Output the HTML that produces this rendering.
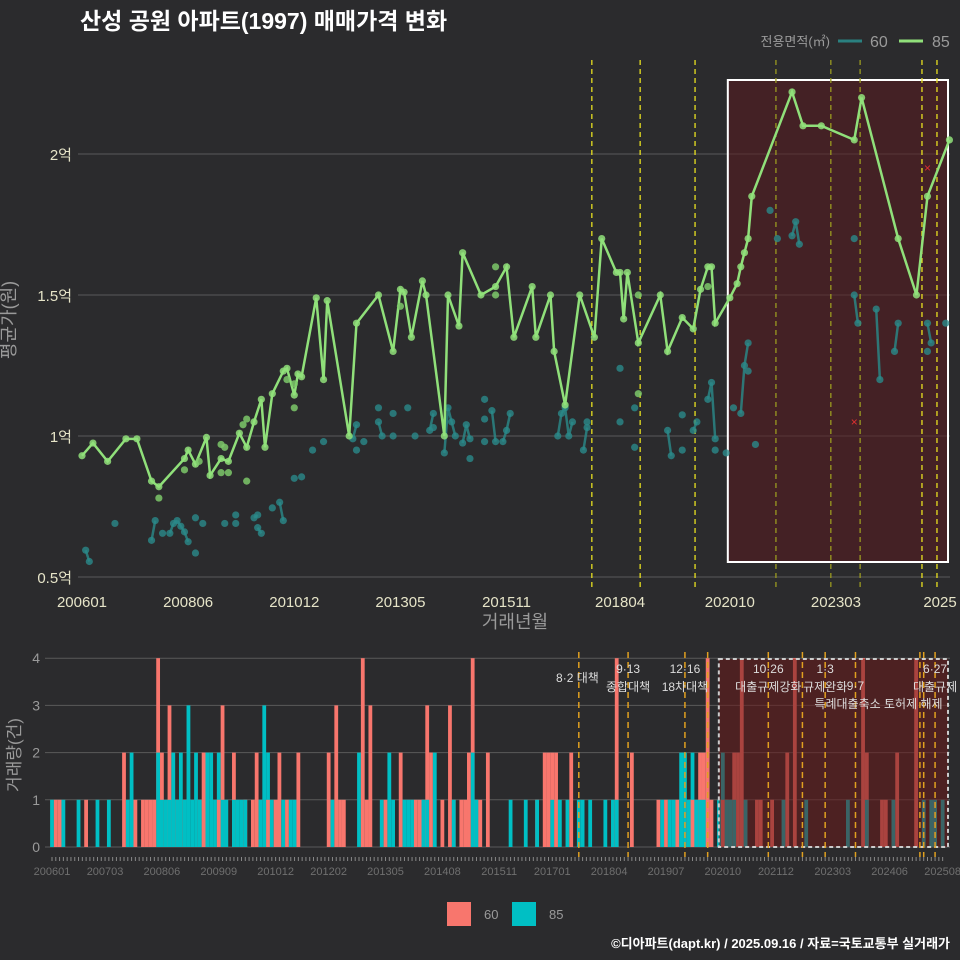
<!DOCTYPE html>
<html><head><meta charset="utf-8">
<style>
body{margin:0;background:#2b2b2d;}
svg{display:block;font-family:"Liberation Sans","Noto Sans CJK KR",sans-serif;}
</style></head>
<body>
<svg id="c" width="960" height="960" viewBox="0 0 960 960" xmlns="http://www.w3.org/2000/svg">
<rect width="960" height="960" fill="#2b2b2d"/>
<text x="80" y="29" fill="#ffffff" font-size="23" font-weight="bold">산성 공원 아파트(1997) 매매가격 변화</text>
<text x="830" y="46" fill="#9a9a9a" font-size="13" text-anchor="end">전용면적(㎡)</text>
<line x1="838" y1="41" x2="862" y2="41" stroke="#2a8080" stroke-width="3"/>
<text x="870" y="47" fill="#9a9a9a" font-size="16">60</text>
<line x1="899" y1="41" x2="923" y2="41" stroke="#90e07a" stroke-width="3"/>
<text x="932" y="47" fill="#9a9a9a" font-size="16">85</text>
<g id="topg"></g>
<g id="botg"></g>
<text x="15" y="320" fill="#9a9a9a" font-size="18" text-anchor="middle" transform="rotate(-90 15 320)">평균가(원)</text>
<text x="515" y="628" fill="#9a9a9a" font-size="18" text-anchor="middle">거래년월</text>
<text x="20" y="755" fill="#9a9a9a" font-size="17" text-anchor="middle" transform="rotate(-90 20 755)">거래량(건)</text>
<rect x="447" y="902" width="24" height="24" fill="#f8766d"/>
<text x="484" y="919" fill="#9a9a9a" font-size="13">60</text>
<rect x="512" y="902" width="24" height="24" fill="#00bfc4"/>
<text x="549" y="919" fill="#9a9a9a" font-size="13">85</text>
<text x="950" y="948" fill="#ffffff" font-size="13" font-weight="bold" text-anchor="end">©디아파트(dapt.kr) / 2025.09.16 / 자료=국토교통부 실거래가</text>
</svg>
<script>
// ---- data ----
const yTicks=[0.5,1,1.5,2];
const yTickLabels=["0.5억","1억","1.5억","2억"];
const xTickMonths=[0,29,58,87,116,147,177,206,235];
const xTickLabels=["200601","200806","201012","201305","201511","201804","202010","202303","2025"];
const m85=[0,3,7,12,15,19,21,28,29,31,34,35,38,40,43,45,47,49,50,52,55,56,58,59,60,64,66,67,73,75,81,85,87,88,90,93,94,99,100,103,104,109,113,116,118,123,124,128,129,132,136,140,142,146,147,148,149,152,158,160,164,167,169,171,172,173,177,179,180,181,182,183,194,197,202,211,213,223,228,231,237];
const v85=[0.93,0.975,0.91,0.99,0.99,0.84,0.82,0.92,0.95,0.90,0.995,0.86,0.92,0.91,1.01,0.96,1.05,1.13,0.96,1.15,1.23,1.24,1.145,1.22,1.21,1.49,1.2,1.48,1.0,1.40,1.5,1.30,1.52,1.51,1.35,1.55,1.50,1.0,1.5,1.39,1.65,1.5,1.53,1.6,1.35,1.53,1.35,1.5,1.30,1.11,1.50,1.35,1.70,1.58,1.58,1.415,1.58,1.33,1.5,1.30,1.42,1.38,1.52,1.6,1.6,1.40,1.49,1.54,1.6,1.65,1.70,1.85,2.22,2.1,2.1,2.05,2.2,1.70,1.5,1.85,2.05];
const m85x=[21,28,32,38,39,38,40,44,45,45,56,58,58,87,113,113,152,152,171];
const v85x=[0.78,0.88,0.91,0.97,0.96,0.87,0.87,1.04,1.06,0.84,1.2,1.185,1.1,1.46,1.6,1.5,1.5,1.15,1.53];
const m60=[1,2,9,19,20,22,24,25,26,27,28,29,31,31,33,39,42,42,47,48,48,49,52,54,55,58,60,63,66,74,75,75,77,81,81,82,85,85,89,91,95,96,96,99,100,101,102,104,105,106,106,110,110,110,112,113,115,116,117,130,131,132,133,134,137,138,138,147,147,151,151,160,161,164,164,167,168,171,172,173,173,176,178,180,181,182,182,184,188,190,194,195,196,211,211,212,217,218,222,223,231,231,232,236];
const v60=[0.595,0.555,0.69,0.63,0.70,0.655,0.655,0.69,0.70,0.68,0.66,0.625,0.71,0.585,0.69,0.69,0.72,0.69,0.71,0.72,0.675,0.655,0.745,0.765,0.70,0.85,0.855,0.95,0.98,0.99,1.04,0.95,0.98,1.1,1.05,1.0,1.08,1.0,1.1,1.0,1.02,1.08,1.03,0.94,1.1,1.05,1.0,0.975,1.04,0.99,0.92,1.13,1.06,0.98,1.09,0.98,0.98,1.02,1.08,1.0,1.08,1.1,1.0,1.05,0.95,1.03,1.05,1.24,1.05,1.1,0.96,1.02,0.93,1.075,0.95,1.02,1.05,1.13,1.19,0.99,0.95,0.94,1.1,1.08,1.25,1.33,1.23,0.97,1.8,1.7,1.71,1.76,1.68,1.7,1.5,1.4,1.45,1.2,1.3,1.4,1.3,1.4,1.33,1.4];
const crossM=[231,211];
const crossV=[1.95,1.05];
const topEvents=[139.3,152.5,167.5,189.6,204.6,212.6,229.5,233.6];
const botEvents=[139,152,167,173,189,198,204,212,229,230,233];
const c85=[1,0,0,1,0,0,0,1,0,0,0,0, 1,0,0,1,0,0,0,0,1,2,0,0, 0,0,0,0,2,1,1,1,2,1,2,1, 3,1,2,1,0,2,2,1,2,1,1,0, 1,1,1,1,0,0,0,1,3,2,1,0, 0,1,0,1,1,0,0,0,0,0,0,0, 0,0,1,0,0,0,0,0,0,2,0,0, 0,0,0,1,0,2,1,0,0,1,1,1, 0,0,1,1,0,2,0,0,0,0,1,0, 0,0,0,2,1,0,0,0,0,0,0,0, 0,1,0,0,0,1,0,0,1,0,0,0, 1,0,1,0,1,0,0,1,1,0,1,0, 0,0,1,0,1,1,0,0,0,0,0,0, 0,0,0,0,0,1,0,1,1,0,2,2, 1,2,1,1,1,0,0,0,1,2,1,1, 1,0,0,1,0,0,0,0,0,0,0,0, 0,1,0,0,0,0,0,1,0,0,0,0, 0,0,0,0,0,0,1,0,0,0,0,1, 0,0,0,0,0,0,1,0,0,0,0,0, 0,0,1,0,1,1,0,1];
const c60=[0,1,1,0,0,0,0,0,0,1,0,0, 0,0,0,0,0,0,0,2,0,0,1,0, 1,1,1,1,4,2,0,3,0,1,0,1, 0,0,0,1,2,0,0,0,1,3,0,0, 2,0,0,1,0,1,2,0,0,1,0,1, 2,0,1,0,0,2,0,0,0,0,0,0, 0,2,0,3,1,1,0,0,0,0,4,1, 3,0,0,0,1,0,0,0,2,0,0,0, 1,1,1,3,2,0,0,1,0,3,1,0, 1,1,2,4,1,1,0,2,0,0,0,0, 0,0,0,0,0,0,0,0,1,0,2,2, 2,2,0,0,0,2,0,0,0,0,0,0, 0,0,0,0,0,4,0,0,0,2,0,0, 0,0,0,0,1,0,1,0,0,1,0,0, 1,1,0,2,2,4,1,0,0,1,1,0, 2,2,4,1,0,0,1,1,0,0,1,0, 0,0,2,0,4,0,0,0,0,0,0,0, 0,0,0,0,0,0,0,0,0,0,4,2, 0,0,0,1,1,0,0,2,0,0,0,0, 4,0,0,0,0,1,0,0];
const volTicks=[0,1,2,3,4];
const botTickMonths=[0,14,29,44,59,73,88,103,118,132,147,162,177,191,206,221,235];
const botTickLabels=["200601","200703","200806","200909","201012","201202","201305","201408","201511","201701","201804","201907","202010","202112","202303","202406","202508"];
const eventLabels=[["8·2 대책",""],["9·13","종합대책"],["12·16","18차대책"],["10·26","대출규제강화"],["1·3","규제완화"],["9·7","특례대출축소"],["6·27","대출규제"]];
const eventLabelMonths=[139,152,167,189,204,212,233];

// ---- helpers ----
const NS="http://www.w3.org/2000/svg";
function mk(parent,tag,attrs,text){const e=document.createElementNS(NS,tag);for(const k in attrs)e.setAttribute(k,attrs[k]);if(text!==undefined)e.textContent=text;parent.appendChild(e);return e;}
const X=m=>82+3.66*m;
const Y=v=>577-(v-0.5)*282;
const BX=m=>52+3.79*m;
const BY=c=>847-c*47.2;
const topG=document.getElementById('topg'), botG=document.getElementById('botg');

// ---- top panel ----
yTicks.forEach((t,i)=>{
  const l=mk(topG,'line',{x1:78,x2:950,y1:Y(t),y2:Y(t),stroke:'#5a5a5a','stroke-width':1});
  
  
  const tx=mk(topG,'text',{x:72,y:Y(t)+6,fill:'#e6e4c8','font-size':15,'text-anchor':'end'},yTickLabels[i]);
  
  
});
xTickMonths.forEach((m,i)=>{
  const tx=mk(topG,'text',{x:Math.min(X(m),940),y:607,fill:'#e6e4c8','font-size':15,'text-anchor':'middle'},xTickLabels[i]);
  
  
});
const hl=mk(topG,'rect',{x:X(177)-2,y:80,width:948-X(177)+2,height:482,fill:'#5a1a1f','fill-opacity':0.55,stroke:'#ffffff','stroke-width':2});


topEvents.forEach(m=>{
  const l=mk(topG,'line',{x1:X(m),x2:X(m),y1:60,y2:590,stroke:(m>185&&m<228)?'#9a9a20':'#e8e020','stroke-width':1.3,'stroke-dasharray':'5,4'});
  
  
});
let p60='';
for(let i=0;i<m60.length;i++){
  if(i>0&&m60[i]-m60[i-1]<=1&&m60[i]!==m60[i-1])p60+=`M${X(m60[i-1])},${Y(v60[i-1])}L${X(m60[i])},${Y(v60[i])}`;
}
const l60=mk(topG,'path',{d:p60||'M0,0',stroke:'#2a8585','stroke-width':2.5,fill:'none','stroke-opacity':0.85});


m60.forEach((m,i)=>{
  const c=mk(topG,'circle',{cx:X(m),cy:Y(v60[i]),r:3.6,fill:'#2a8a8a','fill-opacity':0.8});
  
  
});
const l85=mk(topG,'polyline',{points:m85.map((m,i)=>X(m)+','+Y(v85[i])).join(' '),stroke:'#90e07a','stroke-width':2.5,fill:'none'});


m85.forEach((m,i)=>{
  const c=mk(topG,'circle',{cx:X(m),cy:Y(v85[i]),r:3.6,fill:'#90e07a','fill-opacity':0.85});
  
  
});
m85x.forEach((m,i)=>{
  const c=mk(topG,'circle',{cx:X(m),cy:Y(v85x[i]),r:3.6,fill:'#7cc86a','fill-opacity':0.85});
  
  
});
crossM.forEach((m,i)=>{
  const t=mk(topG,'text',{x:X(m),y:Y(crossV[i])+4,fill:'#e03030','font-size':12,'text-anchor':'middle'},'×');
  
  
});

// ---- bottom panel ----
volTicks.forEach(t=>{
  const l=mk(botG,'line',{x1:45,x2:950,y1:BY(t),y2:BY(t),stroke:'#5a5a5a','stroke-width':1});
  
  
  const tx=mk(botG,'text',{x:40,y:BY(t)+5,fill:'#9a9a9a','font-size':14,'text-anchor':'end'},String(t));
  
  
});
c85.forEach((c,m)=>{
  const w=3.79;
  const d=c60[m];
  const drawBar=(val,color,name)=>{
    if(val<=0)return;
    const r=mk(botG,'rect',{x:BX(m)-w/2,y:BY(val),width:w,height:BY(0)-BY(val),fill:color});
    
    
  };
  if(d>=c){drawBar(d,'#f8766d','bar-60');drawBar(c,'#00bfc4','bar-85');}
  else{drawBar(c,'#00bfc4','bar-85');drawBar(d,'#f8766d','bar-60');}
});
const bh=mk(botG,'rect',{x:BX(177)-4,y:659,width:948-BX(177)+4,height:188,fill:'#6a1a1a','fill-opacity':0.55,stroke:'#cccccc','stroke-width':2,'stroke-dasharray':'4,3'});


botEvents.forEach(m=>{
  const l=mk(botG,'line',{x1:BX(m),x2:BX(m),y1:652,y2:857,stroke:'#e0a020','stroke-width':1.5,'stroke-dasharray':'6,4'});
  
  
});
eventLabelMonths.forEach((m,i)=>{
  const x=BX(m);
  const a=eventLabels[i][0], b=eventLabels[i][1];
  if(i===0){
    const t=mk(botG,'text',{x:x+20,y:682,fill:'#dddddd','font-size':12,'text-anchor':'end'},a);
    
    
    return;
  }
  if(i===5){
    const t1=mk(botG,'text',{x:x,y:690,fill:'#dddddd','font-size':12,'text-anchor':'middle'},a);
    
    
    const t2=mk(botG,'text',{x:x+23,y:708,fill:'#dddddd','font-size':12,'text-anchor':'middle'},'특례대출축소 토허제 해제');
    
    
    return;
  }
  const t1=mk(botG,'text',{x:x,y:673,fill:'#dddddd','font-size':12,'text-anchor':'middle'},a);
  
  
  const t2=mk(botG,'text',{x:x,y:691,fill:'#dddddd','font-size':12,'text-anchor':'middle'},b);
  
  
});
for(let m=0;m<236;m++){
  const l=mk(botG,'line',{x1:BX(m),x2:BX(m),y1:857,y2:861,stroke:'#888','stroke-width':1});
  
  
}
botTickMonths.forEach((m,i)=>{
  const t=mk(botG,'text',{x:BX(m),y:875,fill:'#6f6f6f','font-size':11,'text-anchor':'middle'},botTickLabels[i]);
  
  
});
</script>
</body></html>
